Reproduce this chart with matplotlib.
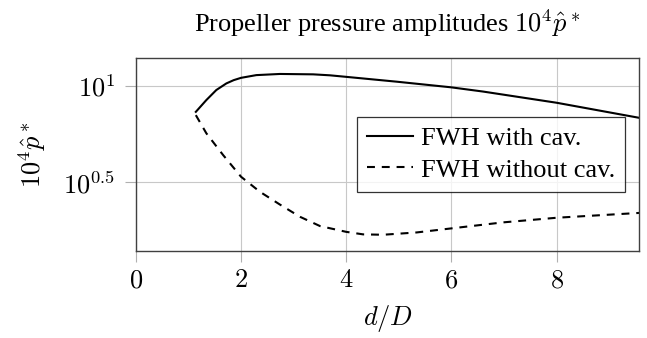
import numpy as np
import matplotlib
matplotlib.use('Agg')
from matplotlib import pyplot as plt
from matplotlib.ticker import NullLocator

plt.rcParams['font.family'] = ['Liberation Serif', 'DejaVu Serif']
plt.rcParams['mathtext.fontset'] = 'cm'

# values (x = d/D, y = log10 of 10^4 p-hat*)
d_cav = [1.14, 1.34, 1.53, 1.72, 1.86, 2.0, 2.29, 2.74, 3.37, 3.69, 4.0, 4.96, 5.99, 6.6, 8.0, 9.57]
logp_cav = [0.865, 0.926, 0.978, 1.012, 1.029, 1.041, 1.055, 1.061, 1.059, 1.054, 1.046, 1.021,
            0.992, 0.970, 0.912, 0.834]

d_nocav = [1.14, 1.34, 1.66, 2.0, 2.36, 2.74, 3.12, 3.5, 4.0, 4.32, 4.7, 5.34, 6.0, 6.98, 8.0, 9.57]
logp_nocav = [0.848, 0.754, 0.641, 0.529, 0.451, 0.385, 0.322, 0.274, 0.244, 0.231, 0.229, 0.241,
              0.262, 0.293, 0.317, 0.342]

p_cav = 10 ** np.array(logp_cav)
p_nocav = 10 ** np.array(logp_nocav)

x_ticks = [0, 2, 4, 6, 8]
y_ticks = [10 ** 0.5, 10 ** 1]
y_ticklabels = [r'$10^{0.5}$', r'$10^{1}$']

fig = plt.figure(figsize=(6.47, 3.38), dpi=100)
ax = fig.add_axes([0.210, 0.258, 0.778, 0.5695])

ax.plot(d_cav, p_cav, color='black', lw=1.5, label='FWH with cav.')
ax.plot(d_nocav, p_nocav, color='black', lw=1.5, ls=(0, (3.8, 3.3)), label='FWH without cav.')

ax.set_yscale('log')
ax.set_xlim(0, 9.57)
ax.set_ylim(10 ** 0.146, 10 ** 1.142)
ax.set_xticks(x_ticks)
ax.set_xticklabels([f'${t}$' for t in x_ticks])
ax.set_yticks(y_ticks)
ax.set_yticklabels(y_ticklabels)
ax.yaxis.set_minor_locator(NullLocator())

ax.grid(True, color='#c8c8c8', lw=0.8)
ax.tick_params(axis='both', which='major', direction='out', length=8, width=0.8,
               color='#b0b0b0', labelsize=19)
ax.tick_params(axis='x', pad=6)
ax.tick_params(axis='y', pad=7)
for s in ax.spines.values():
    s.set_color('#404040')
    s.set_linewidth(1.0)

ax.set_xlabel(r'$d/D$', fontsize=19, labelpad=8)
ax.set_ylabel(r'$10^4\hat{p}^*$', fontsize=19, labelpad=11)
ax.set_title(r'Propeller pressure amplitudes $10^4\hat{p}^*$', fontsize=19, pad=19)

leg = ax.legend(loc='upper right', bbox_to_anchor=(0.9716, 0.6965), fontsize=19,
                frameon=True, fancybox=False, handlelength=1.75, handletextpad=0.3,
                borderpad=0.38, labelspacing=0.3, borderaxespad=0)
leg.get_frame().set_edgecolor('black')
leg.get_frame().set_linewidth(0.9)

fig.savefig('out.png', dpi=100)
